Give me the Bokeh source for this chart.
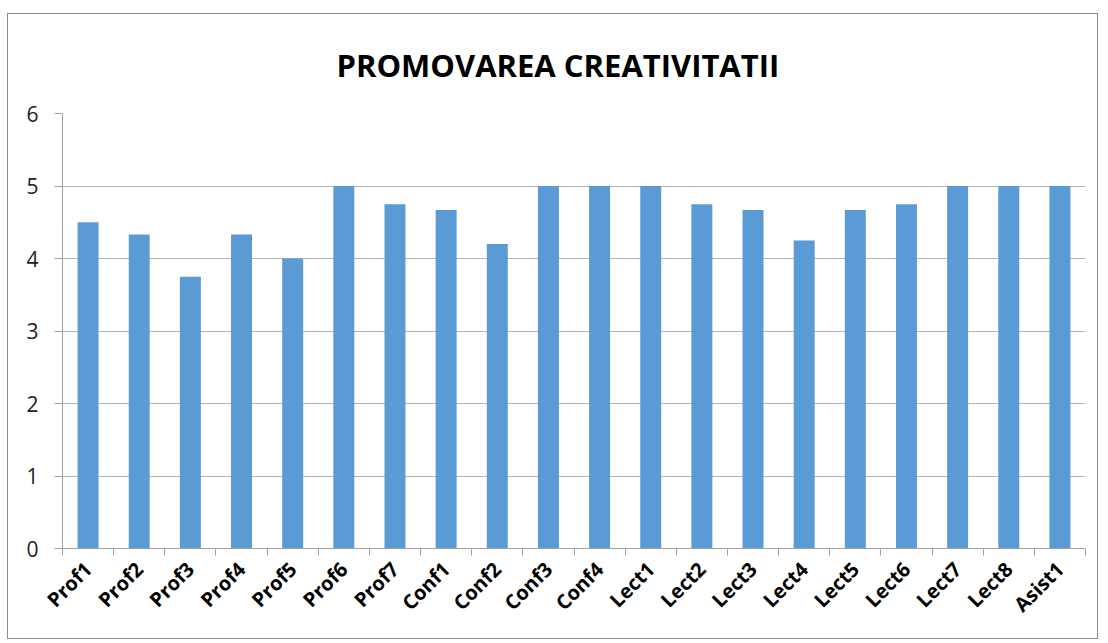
import math
from bokeh.plotting import figure
from bokeh.models import Range1d, LinearAxis, FixedTicker, ColumnDataSource
from bokeh.embed import file_html
from bokeh.resources import INLINE

categories = ["Prof1", "Prof2", "Prof3", "Prof4", "Prof5", "Prof6", "Prof7",
              "Conf1", "Conf2", "Conf3", "Conf4",
              "Lect1", "Lect2", "Lect3", "Lect4", "Lect5", "Lect6", "Lect7", "Lect8",
              "Asist1"]
values = [4.5, 4.33, 3.75, 4.33, 4.0, 5.0, 4.75,
          4.67, 4.2, 5.0, 5.0,
          5.0, 4.75, 4.67, 4.25, 4.67, 4.75, 5.0, 5.0,
          5.0]
y_ticks = [0, 1, 2, 3, 4, 5, 6]
title_text = "PROMOVAREA CREATIVITATII"

n = len(categories)
centers = [i + 0.5 for i in range(n)]
boundaries = list(range(n + 1))
src = ColumnDataSource(data=dict(x=centers, cat=categories, val=values))

p = figure(x_range=Range1d(0, n), y_range=Range1d(0, 6),
           width=1091, height=626,
           output_backend="svg", toolbar_location=None,
           x_axis_location=None, y_axis_location="left",
           min_border_left=54, min_border_right=14,
           min_border_top=99, min_border_bottom=92,
           title=title_text)

p.title.align = "left"
p.title.offset = 274
p.title.text_font = "Open Sans"
p.title.text_font_size = "31px"
p.title.text_font_style = "bold"
p.title.text_color = "#000000"
p.title.standoff = 55

p.outline_line_color = None
p.styles = {"border": "1px solid #8c8c8c", "margin-left": "7px", "margin-top": "13px"}

p.vbar(x="x", top="val", width=0.41, source=src,
       fill_color="#5B9BD5", line_color=None)

# y axis
yax = p.yaxis[0]
yax.ticker = FixedTicker(ticks=y_ticks)
yax.axis_line_color = "#a0a0a0"
yax.major_tick_line_color = "#a0a0a0"
yax.major_tick_out = 8
yax.major_tick_in = 0
yax.minor_tick_line_color = None
yax.major_label_text_font = "Open Sans"
yax.major_label_text_font_size = "21px"
yax.major_label_text_color = "#222222"
yax.major_label_standoff = 16

p.ygrid.ticker = FixedTicker(ticks=y_ticks)
p.ygrid.grid_line_color = "#b4b4b4"
p.xgrid.grid_line_color = None

# category axis: labels at bar centres, tick marks between categories
xax = LinearAxis(ticker=FixedTicker(ticks=centers, minor_ticks=boundaries),
                 major_label_overrides={c: lab for c, lab in zip(centers, categories)},
                 axis_line_color="#a0a0a0",
                 major_tick_line_color=None,
                 minor_tick_line_color="#a0a0a0",
                 minor_tick_out=7, minor_tick_in=0,
                 major_tick_out=7, major_tick_in=0,
                 major_label_orientation=math.pi / 4,
                 major_label_text_font="Open Sans",
                 major_label_text_font_size="20px",
                 major_label_text_font_style="bold",
                 major_label_text_color="#000000",
                 major_label_standoff=10)
p.add_layout(xax, "below")

open("out.html", "w").write(file_html(p, INLINE))
